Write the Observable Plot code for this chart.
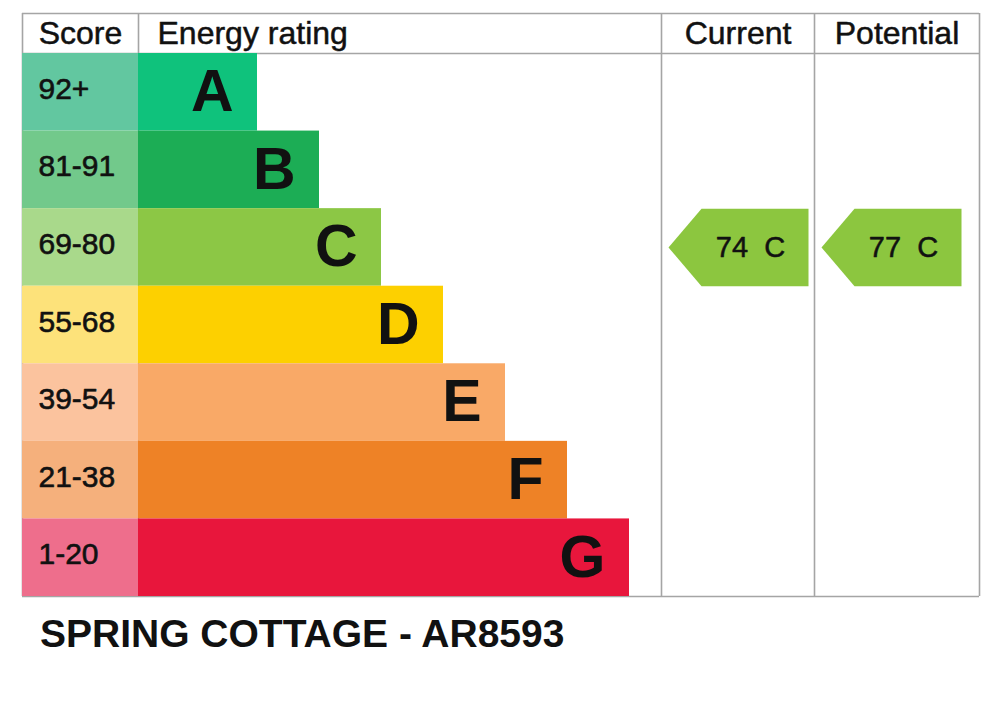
<!DOCTYPE html>
<html><head><meta charset="utf-8">
<script src="https://cdn.jsdelivr.net/npm/d3@7"></script>
<script src="https://cdn.jsdelivr.net/npm/@observablehq/plot@0.6"></script>
<style>
html,body{margin:0;padding:0;background:#fff;}
#chart svg{display:block;}
#title{font:bold 39px "Liberation Sans", Arial, sans-serif;line-height:38px;margin:15px 0 0 40px;color:#111;white-space:nowrap;}
</style></head><body>
<div id="chart"></div>
<div id="title"></div>
<script>
// ---- data ----
const bands = ["A","B","C","D","E","F","G"];
const scoreRanges = ["92+","81-91","69-80","55-68","39-54","21-38","1-20"];
const bandRanks = [1,2,3,4,5,6,7];
const barColors = ["#0fc27c","#1cad55","#8cc745","#fdd000","#f9a967","#ee8226","#e8163c"];
const scoreColors = ["#62c7a0","#72c98b","#a9d98b","#fde27a","#fbc39e","#f5b07c","#ee6e8c"];
const headerLabels = ["Score","Energy rating","Current","Potential"];
const ratingColumns = ["Current","Potential"];
const ratingValues = [74, 77];
const ratingBands = ["C","C"];
const titleText = "SPRING COTTAGE - AR8593";

// ---- layout (pixels) ----
const W = 1000, H = 600;
const U = 62, X0 = 195;            // px per rank step, px of rank 0
const Y0 = 53, RH = (596 - 53) / 7; // first row top, row height
const cx = px => (px - X0) / U;
const ry = px => (px - Y0) / RH;
const colEdges = {scoreL: 22, energyL: 138, currentL: 661, potentialL: 814, right: 979, top: 13};
const colLeft = {Current: colEdges.currentL, Potential: colEdges.potentialL};
const font = "'Liberation Sans', Arial, sans-serif";
const borderColor = "#a5a5a5";
const arrowColor = "#8cc63f";
const ink = "#111";

const rows = bands.map((b, i) => ({band: b, score: scoreRanges[i], rank: bandRanks[i], row: i, bar: barColors[i], cell: scoreColors[i]}));

const headersMiddle = [
  {text: headerLabels[0], x: cx((colEdges.scoreL + colEdges.energyL) / 2)},
  {text: headerLabels[2], x: cx((colEdges.currentL + colEdges.potentialL) / 2)},
  {text: headerLabels[3], x: cx((colEdges.potentialL + colEdges.right) / 2)}
];
const headersStart = [
  {text: headerLabels[1], x: cx(colEdges.energyL + 19)}
];

const ratings = ratingColumns.map((c, k) => ({col: c, value: ratingValues[k], band: ratingBands[k], row: bands.indexOf(ratingBands[k])}));
const arrowPts = ratings.flatMap(r => {
  const L = colLeft[r.col];
  return [
    {k: r.col, x: cx(L + 7), y: r.row + 0.5},
    {k: r.col, x: cx(L + 40), y: r.row},
    {k: r.col, x: cx(L + 147), y: r.row},
    {k: r.col, x: cx(L + 147), y: r.row + 1},
    {k: r.col, x: cx(L + 40), y: r.row + 1},
    {k: r.col, x: cx(L + 7), y: r.row + 0.5}
  ];
});

const hLines = [ry(colEdges.top), 0, 7];
const vLines = [colEdges.scoreL, colEdges.energyL, colEdges.currentL, colEdges.potentialL, colEdges.right];

const chart = Plot.plot({
  width: W, height: H, margin: 0,
  style: {fontFamily: font, background: "#fff"},
  x: {axis: null, domain: [cx(0), cx(W)], range: [0, W]},
  y: {axis: null, domain: [ry(0), ry(H)], range: [0, H]},
  color: {type: "identity"},
  marks: [
    Plot.ruleY(hLines, {y: d => d, x1: cx(colEdges.scoreL), x2: cx(colEdges.right), stroke: borderColor, strokeWidth: 1.6}),
    Plot.ruleX(vLines, {x: d => cx(d), y1: ry(colEdges.top), y2: 7, stroke: borderColor, strokeWidth: 1.6}),
    Plot.rect(rows, {x1: cx(colEdges.scoreL), x2: cx(colEdges.energyL), y1: d => d.row, y2: d => d.row + 1, fill: "cell"}),
    Plot.rect(rows, {x1: cx(colEdges.energyL), x2: "rank", y1: d => d.row, y2: d => d.row + 1, fill: "bar"}),
    Plot.text(rows, {x: cx(colEdges.scoreL + 16), y: d => d.row + 0.5, text: "score", textAnchor: "start", dy: -3, fontSize: 30, fill: ink, stroke: ink, strokeWidth: 0.6, fontFamily: font}),
    Plot.text(rows, {x: "rank", y: d => d.row + 0.5, text: "band", textAnchor: "end", dx: -24, fontSize: 59, fontWeight: "bold", fill: ink, fontFamily: font}),
    Plot.text(headersMiddle, {x: "x", y: ry(33), text: "text", textAnchor: "middle", fontSize: 32, fill: ink, stroke: ink, strokeWidth: 0.5, fontFamily: font}),
    Plot.text(headersStart, {x: "x", y: ry(33), text: "text", textAnchor: "start", fontSize: 32, fill: ink, stroke: ink, strokeWidth: 0.5, fontFamily: font}),
    Plot.line(arrowPts, {x: "x", y: "y", z: "k", fill: arrowColor, stroke: "none", curve: "linear"}),
    Plot.text(ratings, {x: d => cx(colLeft[d.col] + 89), y: d => d.row + 0.5, text: d => `${d.value}\u00a0\u00a0${d.band}`, fontSize: 29, fill: ink, stroke: ink, strokeWidth: 0.5, fontFamily: font})
  ]
});
document.getElementById("chart").appendChild(chart);
document.getElementById("title").textContent = titleText;
</script>
</body></html>
